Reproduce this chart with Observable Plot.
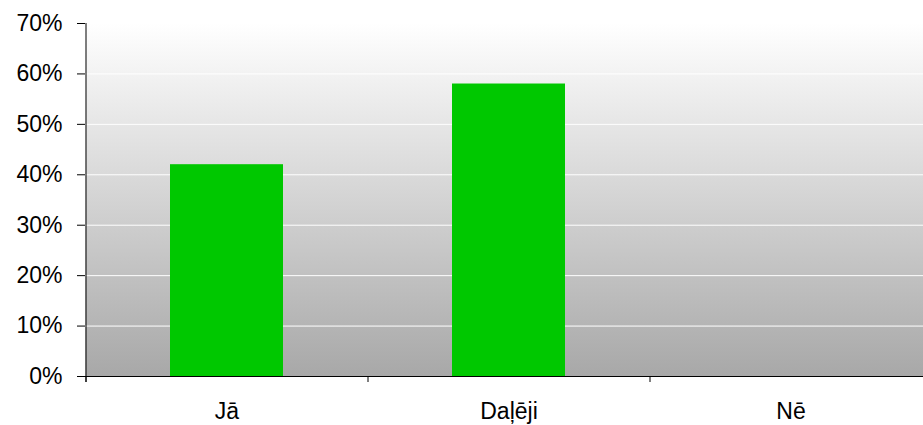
<!DOCTYPE html>
<html>
<head>
<meta charset="utf-8">
<script src="https://cdn.jsdelivr.net/npm/d3@7"></script>
<script src="https://cdn.jsdelivr.net/npm/@observablehq/plot@0.6"></script>
<style>
  html, body { margin: 0; padding: 0; background: #fff; overflow: hidden; }
  #chart { width: 923px; height: 425px; overflow: hidden; }
  #chart svg { display: block; overflow: hidden; }
</style>
</head>
<body>
<div id="chart"></div>
<script>
// Answer categories and their shares (%)
const categories = ["Jā", "Daļēji", "Nē"];
const shares = [42, 58, 0];
const yTicks = [0, 10, 20, 30, 40, 50, 60, 70];

const data = categories.map((c, i) => ({category: c, share: shares[i]}));

// The plotting area runs a little past the right edge of the image
const width = 923, height = 425;
const xRange = [85, 931];
const step = (xRange[1] - xRange[0]) / categories.length;

const chart = Plot.plot({
  width,
  height,
  marginLeft: 85,
  marginRight: 0,
  marginTop: 23,
  marginBottom: 49,
  style: {fontFamily: "'Liberation Sans', Arial, sans-serif", fontSize: "23px", color: "#000", background: "transparent", overflow: "hidden"},
  x: {domain: categories, range: xRange, paddingInner: 0.6, paddingOuter: 0.3, label: null},
  y: {domain: [0, 70], label: null},
  marks: [
    Plot.rectY([0], {x1: () => categories[0], x2: () => categories[2], dx: 0, y1: 0, y2: 70, insetLeft: -0.3 * step, insetRight: -0.3 * step, fill: "url(#plotBg)"}),
    Plot.gridY(yTicks, {stroke: "#fff", strokeOpacity: 1, strokeWidth: 1}),
    Plot.barY(data, {x: "category", y: "share", fill: "#00c800"}),
    Plot.ruleY([0], {stroke: "#000", strokeWidth: 1}),
    // value axis line along the left edge of the first band
    Plot.ruleX([categories[0]], {x: d => d, dx: -step / 2, y1: 70, y2: 0, insetBottom: -6, stroke: "#000", strokeWidth: 1}),
    Plot.axisY(yTicks, {tickFormat: d => d + "%", tickSize: 8, tickPadding: 15, stroke: "#000", fontSize: 23}),
    // category boundary ticks
    Plot.axisX({tickSize: 6, dx: -step / 2, text: null, stroke: "#000"}),
    Plot.axisX({tickSize: 0, tickPadding: 26, fontSize: 23})
  ]
});

// Vertical gradient behind the plotting area
const svg = d3.select(chart);
const grad = svg.insert("defs", ":first-child")
  .append("linearGradient")
  .attr("id", "plotBg")
  .attr("x1", 0).attr("y1", 0).attr("x2", 0).attr("y2", 1);
grad.append("stop").attr("offset", "0%").attr("stop-color", "#ffffff");
grad.append("stop").attr("offset", "100%").attr("stop-color", "#a8a8a8");

document.getElementById("chart").append(chart);
</script>
</body>
</html>
